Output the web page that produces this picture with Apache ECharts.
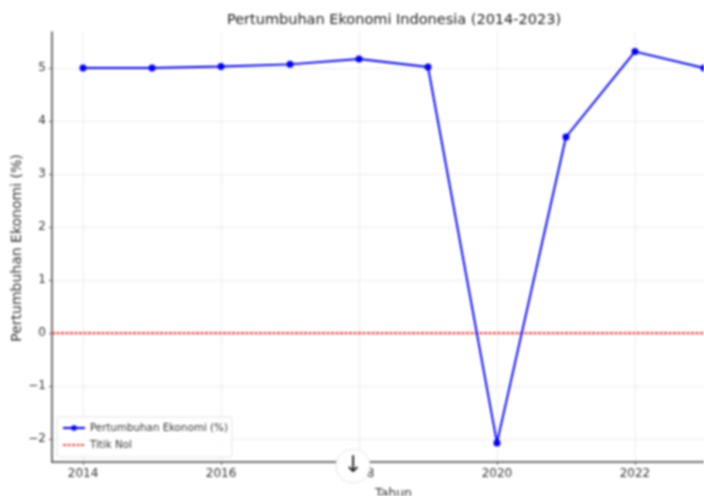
<!DOCTYPE html>
<html><head><meta charset="utf-8">
<script src="https://cdn.jsdelivr.net/npm/echarts@6/dist/echarts.min.js"></script>
<style>html,body{margin:0;padding:0;background:#fff;overflow:hidden}#c{width:704px;height:496px;filter:blur(0.9px)}</style>
</head><body><div id="c"></div>
<script>
const chartTitle = "Pertumbuhan Ekonomi Indonesia (2014-2023)";
const xName = "Tahun";
const yName = "Pertumbuhan Ekonomi (%)";
const seriesName = "Pertumbuhan Ekonomi (%)";
const zeroName = "Titik Nol";
const years = [2014,2015,2016,2017,2018,2019,2020,2021,2022,2023];
const growth = [5.00,5.00,5.03,5.07,5.17,5.02,-2.07,3.70,5.31,5.00];
const xTicks = [2014,2016,2018,2020,2022];
const yTicks = [-2,-1,0,1,2,3,4,5];
const xRange = [2013.55,2023.45];
const yRange = [-2.43,5.68];
const zeroLine = [0,0];

const chart = echarts.init(document.getElementById('c'),null,{renderer:'canvas'});
const font = 'DejaVu Sans';
const axisColor = '#444';
chart.setOption({
  animation:false,
  backgroundColor:'#fff',
  textStyle:{fontFamily:font},
  title:{text:chartTitle,left:389,top:8,textAlign:'center',
    textStyle:{fontFamily:font,fontSize:14.5,fontWeight:'normal',color:'#222'}},
  grid:{left:52,right:-31,top:32,bottom:34,outerBoundsMode:'none',containLabel:false},
  legend:{show:true,orient:'vertical',left:57,top:417,padding:[6,4,7,5],itemGap:7,
    itemWidth:22,itemHeight:7,backgroundColor:'rgba(255,255,255,0.8)',
    borderColor:'#e4e4e4',borderWidth:1,borderRadius:2,
    textStyle:{fontFamily:font,fontSize:10.3,color:'#333'},
    data:[seriesName,{name:zeroName,itemStyle:{opacity:0}}]},
  xAxis:{type:'value',min:xRange[0],max:xRange[1],name:xName,nameLocation:'middle',nameGap:25,
    nameTextStyle:{fontFamily:font,fontSize:12.5,color:'#333'},
    axisLine:{onZero:false,lineStyle:{color:axisColor,width:1.5}},
    axisTick:{customValues:xTicks,length:3,lineStyle:{color:axisColor,width:0.8}},
    axisLabel:{customValues:xTicks,fontFamily:font,fontSize:12,color:'#333',margin:6,formatter:v=>String(v)},
    splitLine:{show:true,lineStyle:{color:'#d2d2d2',type:'dotted',width:0.8}}},
  yAxis:{type:'value',min:yRange[0],max:yRange[1],
    axisLine:{show:true,lineStyle:{color:axisColor,width:1.5}},
    axisTick:{show:true,customValues:yTicks,length:3,lineStyle:{color:axisColor,width:0.8}},
    axisLabel:{customValues:yTicks,fontFamily:font,fontSize:12,color:'#333',margin:6,
      formatter:v=>String(v).replace('-','\u2212')},
    splitLine:{show:true,lineStyle:{color:'#d2d2d2',type:'dotted',width:0.8}}},
  series:[
    {name:zeroName,type:'line',symbol:'none',z:3,silent:true,
     data:xRange.map((x,i)=>[x,zeroLine[i]]),
     lineStyle:{color:'#ff4040',type:[3,1.5],width:2.2},itemStyle:{color:'#ff5a5a'}},
    {name:seriesName,type:'line',symbol:'circle',symbolSize:7,z:4,clip:false,
     data:years.map((y,i)=>[y,growth[i]]),
     lineStyle:{color:'#0000ff',width:1.9},itemStyle:{color:'#0000ff'}}
  ],
  graphic:[
    {type:'text',x:17,y:248,rotation:Math.PI/2,z:50,
      style:{text:yName,fontFamily:font,fontSize:14,fill:'#333',align:'center',verticalAlign:'middle'}},
    {type:'circle',shape:{cx:353,cy:466,r:17},z:100,
      style:{fill:'#fff',stroke:'#e6e6e6',lineWidth:1}},
    {type:'text',x:353,y:466,z:101,
      style:{text:'\u2193',fontFamily:font,fontSize:23,fill:'#222',align:'center',verticalAlign:'middle'}}]
});
</script></body></html>
